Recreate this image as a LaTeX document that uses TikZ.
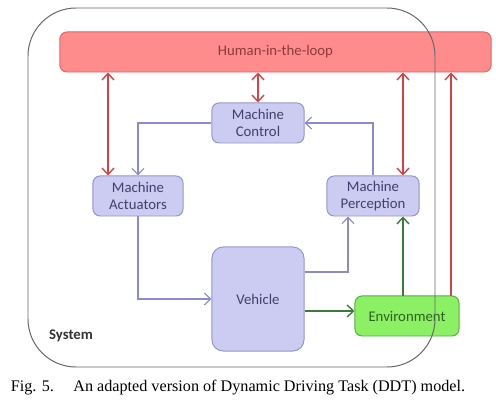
\documentclass[tikz,border=0pt]{standalone}
\usepackage{fontspec}
\setmainfont{Liberation Serif}
\newfontfamily\boxfont{Carlito}
\usetikzlibrary{arrows.meta}
\definecolor{hitlfill}{HTML}{FF8C8C}
\definecolor{hitldraw}{HTML}{E06666}
\definecolor{hitltext}{HTML}{8B3A3A}
\definecolor{boxfill}{HTML}{CCCCF2}
\definecolor{boxdraw}{HTML}{9494CC}
\definecolor{boxtext}{HTML}{40406E}
\definecolor{envfill}{HTML}{8CF064}
\definecolor{envdraw}{HTML}{55B044}
\definecolor{envtext}{HTML}{2F5F22}
\definecolor{redline}{HTML}{D04444}
\definecolor{blueline}{HTML}{8A8ACC}
\definecolor{greenline}{HTML}{3A7A3A}

\begin{document}
\begin{tikzpicture}[x=0.025cm, y=-0.025cm, >={Straight Barb[length=1.6mm,width=3mm]},
    main/.style = {draw=boxdraw, fill=boxfill, rounded corners=5pt, line width=0.7pt, inner sep=0pt,
                   align=center, text=boxtext, font=\boxfont\fontsize{10.5}{12.5}\selectfont,
                   minimum width=2.3cm, minimum height=1cm},
    redarr/.style = {draw=redline, line width=1pt},
    bluearr/.style = {draw=blueline, line width=0.8pt},
    greenarr/.style = {draw=greenline, line width=1pt}]
		\useasboundingbox (0,0) rectangle (496,400);
		\node[main, draw=hitldraw, fill=hitlfill, text=hitltext, minimum width=10.78cm] (hitl) at (275.5,52) {Human-in-the-loop};
		\node[main] (ctrl) at (258,123) {Machine\\Control};
		\node[main, minimum width=2.25cm] (act) at (138,196) {Machine\\Actuators};
		\node[main] (perc) at (373,196) {Machine\\Perception};
		\node[main, minimum height=2.6cm, rounded corners=8pt] (veh) at (258,299) {Vehicle};
		\node[main, draw=envdraw, fill=envfill, text=envtext, minimum width=2.6cm] (env) at (407,316) {Environment};
		% outer system frame, drawn over the boxes
		\draw[black!60, line width=0.7pt, rounded corners=1.2cm] (28,8) rectangle (435,367);
		\node[font=\boxfont\bfseries\fontsize{10.5}{12.5}\selectfont, text=black!80] (sys) at (71,336) {System};
		% human in the loop
		\draw[redarr, <->] ([xshift=-0.75cm]act.north |- hitl.south) -- ([xshift=-0.75cm]act.north);
		\draw[redarr, <->] (hitl.south -| ctrl.north) -- (ctrl.north);
		\draw[redarr, <->] ([xshift=0.75cm]perc.north |- hitl.south) -- ([xshift=0.75cm]perc.north);
		\draw[redarr, ->] ([xshift=1.1cm]env.north) -- ([xshift=1.1cm]env.north |- hitl.south);
		% control loop
		\draw[bluearr, ->] (ctrl.west) -| (act.north);
		\draw[bluearr, ->] (perc.north) |- (ctrl.east);
		\draw[bluearr, ->] (act.south) |- (veh.west);
		\draw[bluearr, ->] ([yshift=0.675cm]veh.east) -| ([xshift=-0.625cm]perc.south);
		% environment
		\draw[greenarr, ->] ([yshift=-0.3cm]veh.east) -- ([yshift=-0.3cm]veh.east -| env.west);
		\draw[greenarr, ->] ([xshift=-0.1cm]env.north) -- ([xshift=-0.1cm]env.north |- perc.south);
		\node[font=\fontsize{11.5}{13}\selectfont] (cap) at (238,388) {Fig. 5.\hspace{1.2em}An adapted version of Dynamic Driving Task (DDT) model.};
\end{tikzpicture}
\end{document}
